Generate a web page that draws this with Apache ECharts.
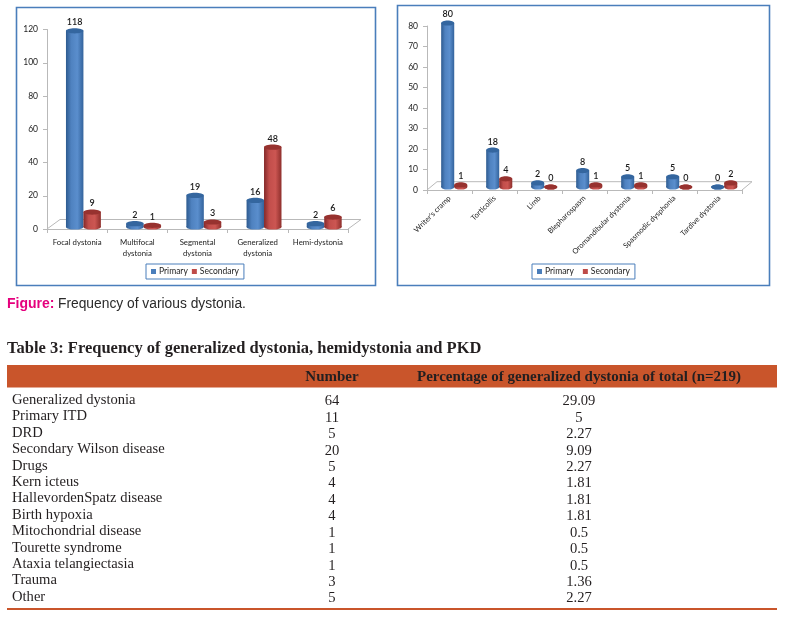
<!DOCTYPE html>
<html>
<head>
<meta charset="utf-8">
<style>html,body{margin:0;padding:0;background:#fff}#c{width:786px;height:619px}</style>
<script src="https://cdn.jsdelivr.net/npm/echarts@6/dist/echarts.min.js"></script>
</head>
<body>
<div id="c"></div>
<script>
const leftCategories = ['Focal dystonia', 'Multifocal\ndystonia', 'Segmental\ndystonia', 'Generalized\ndystonia', 'Hemi-dystonia'];
const leftPrimary = [118, 2, 19, 16, 2];
const leftSecondary = [9, 1, 3, 48, 6];
const rightCategories = ["Writer's cramp", 'Torticollis', 'Limb', 'Blepharospasm', 'Oromandibular dystonia', 'Spasmodic dysphonia', 'Tardive dystonia'];
const rightPrimary = [80, 18, 2, 8, 5, 5, 0];
const rightSecondary = [1, 4, 0, 1, 1, 0, 2];
const caption = 'Frequency of various dystonia.';
const tableTitle = 'Table 3: Frequency of generalized dystonia, hemidystonia and PKD';
const tableHeaders = ['Number', 'Percentage of generalized dystonia of total (n=219)'];
const rowNames = ['Generalized dystonia', 'Primary ITD', 'DRD', 'Secondary Wilson disease', 'Drugs', 'Kern icteus', 'HallevordenSpatz disease', 'Birth hypoxia', 'Mitochondrial disease', 'Tourette syndrome', 'Ataxia telangiectasia', 'Trauma', 'Other'];
const rowNumbers = ['64', '11', '5', '20', '5', '4', '4', '4', '1', '1', '1', '3', '5'];
const rowPercents = ['29.09', '5', '2.27', '9.09', '2.27', '1.81', '1.81', '1.81', '0.5', '0.5', '0.5', '1.36', '2.27'];

const chartFont = 'Lato';
const tableFont = '"Liberation Serif"';
const blue = {body: ['#2d5a8f', '#4f82c0', '#5a8ecd', '#33639c'], top: '#34669f', legend: '#4a7ebb'};
const red = {body: ['#83292a', '#c24e4b', '#cc5652', '#8e2f2c'], top: '#97322f', legend: '#be4b48'};
const axisGray = '#b9b9b9';

function cylinderSeries(name, values, palette, axisIndex, side, lift) {
  return {
    name, type: 'custom', xAxisIndex: axisIndex, yAxisIndex: axisIndex, z: 5,
    itemStyle: {color: palette.legend},
    data: values.map((v, i) => [i, v]),
    encode: {x: 0, y: 1},
    renderItem(params, api) {
      const c = api.value(0), v = api.value(1);
      const band = api.size([1, 0])[0];
      const w = band * 0.29;
      const center = api.coord([c, 0])[0] + band * 0.105 + side * w / 2;
      const baseY = api.coord([c, 0])[1] - lift;
      const topY = baseY - (api.coord([c, 0])[1] - api.coord([c, v])[1]);
      const ry = 2.6;
      const x0 = center - w / 2;
      const grad = new echarts.graphic.LinearGradient(0, 0, 1, 0, [
        {offset: 0, color: palette.body[0]}, {offset: 0.3, color: palette.body[1]},
        {offset: 0.65, color: palette.body[2]}, {offset: 1, color: palette.body[3]}]);
      return {
        type: 'group',
        children: [
          {type: 'ellipse', shape: {cx: center, cy: baseY, rx: w / 2, ry}, style: {fill: grad}},
          {type: 'rect', shape: {x: x0, y: topY, width: w, height: baseY - topY}, style: {fill: grad}},
          {type: 'ellipse', shape: {cx: center, cy: topY, rx: w / 2, ry}, style: {fill: palette.top}},
          {type: 'text', style: {text: String(v), x: center, y: topY - 4, align: 'center', verticalAlign: 'bottom',
            font: '600 9px ' + chartFont, fill: '#1a1a1a'}}
        ]
      };
    }
  };
}

function floor(pts) {
  return {type: 'polyline', z: 1, shape: {points: pts}, style: {fill: 'none', stroke: axisGray, lineWidth: 1}};
}
function box(x, y, w, h) {
  return {type: 'rect', z: 0, shape: {x: x + 0.5, y: y + 0.5, width: w, height: h}, style: {fill: '#fff', stroke: '#4a7ebb', lineWidth: 1.6}};
}
function txt(text, x, y, align, font, fill) {
  return {type: 'text', z: 3, style: {text, x, y, align, verticalAlign: 'middle', font, fill: fill || '#231f20'}};
}

const rowTop = 400, rowStep = 16.42;
const tableGraphics = [
  {type: 'rect', z: 1, shape: {x: 7, y: 365, width: 770, height: 22.5}, style: {fill: '#c9552b'}},
  {type: 'rect', z: 1, shape: {x: 7, y: 608, width: 770, height: 2}, style: {fill: '#c9552b'}},
  txt(tableTitle, 7, 349, 'left', 'bold 16.5px ' + tableFont),
  txt(tableHeaders[0], 332, 377, 'center', 'bold 15px ' + tableFont),
  txt(tableHeaders[1], 579, 377, 'center', 'bold 15px ' + tableFont)
];
rowNames.forEach((name, i) => {
  const y = rowTop + i * rowStep;
  tableGraphics.push(txt(name, 12, y, 'left', '14.6px ' + tableFont));
  tableGraphics.push(txt(rowNumbers[i], 332, y + 1.5, 'center', '14.6px ' + tableFont));
  tableGraphics.push(txt(rowPercents[i], 579, y + 1.5, 'center', '14.6px ' + tableFont));
});

const valueAxis = (idx, max, interval) => ({
  type: 'value', gridIndex: idx, min: 0, max, interval, splitLine: {show: false},
  axisLine: {show: true, lineStyle: {color: axisGray}},
  axisTick: {show: true, length: 4, lineStyle: {color: axisGray}},
  axisLabel: {fontFamily: chartFont, fontSize: 8.5, color: '#222', margin: 9}
});
const catAxis = (idx, data, extra) => ({
  type: 'category', gridIndex: idx, data, boundaryGap: true,
  axisLine: {show: true, lineStyle: {color: axisGray}},
  axisTick: {show: true, alignWithLabel: false, length: 4, lineStyle: {color: axisGray}},
  axisLabel: Object.assign({fontFamily: chartFont, color: '#222', interval: 0}, extra)
});
const legend = (left, gap) => ({
  data: ['Primary', 'Secondary'], left, top: 264, orient: 'horizontal',
  borderColor: '#4a7ebb', borderWidth: 1, padding: [3, 5, 3, 5], itemWidth: 5, itemHeight: 5, itemGap: gap,
  selectedMode: false, icon: 'rect',
  textStyle: {fontFamily: chartFont, fontSize: 8.5, color: '#222', padding: [0, 0, 0, -2]}
});

const chart = echarts.init(document.getElementById('c'), null, {width: 786, height: 619});
chart.setOption({
  animation: false, backgroundColor: '#fff',
  legend: [legend(146, 4), legend(532, 9)],
  grid: [
    {left: 47, top: 29.5, width: 301, height: 199.5},
    {left: 427, top: 26, width: 315, height: 164}
  ],
  xAxis: [catAxis(0, leftCategories, {fontSize: 7.8, margin: 8, lineHeight: 11}), catAxis(1, rightCategories, {fontSize: 7.5, rotate: 45, margin: 7})],
  yAxis: [valueAxis(0, 120, 20), valueAxis(1, 80, 10)],
  series: [
    cylinderSeries('Primary', leftPrimary, blue, 0, -1, 2),
    cylinderSeries('Secondary', leftSecondary, red, 0, 1, 2),
    cylinderSeries('Primary', rightPrimary, blue, 1, -1, 3),
    cylinderSeries('Secondary', rightSecondary, red, 1, 1, 3)
  ],
  graphic: {elements: [
    box(16, 7, 359, 278),
    box(397, 5, 372, 280),
    floor([[47, 229], [60, 219.5], [361, 219.5], [348, 229]]),
    floor([[427, 190], [437, 181.7], [752, 181.7], [742, 190]]),
    {type: 'text', z: 3, style: {text: 'Figure:', x: 7, y: 304, verticalAlign: 'middle', font: 'bold 14px "Liberation Sans"', fill: '#e5007d'}},
    txt(caption, 58, 304, 'left', '13.8px "Liberation Sans"', '#2a2a2a'),
    ...tableGraphics
  ]}
});
</script>
</body>
</html>
